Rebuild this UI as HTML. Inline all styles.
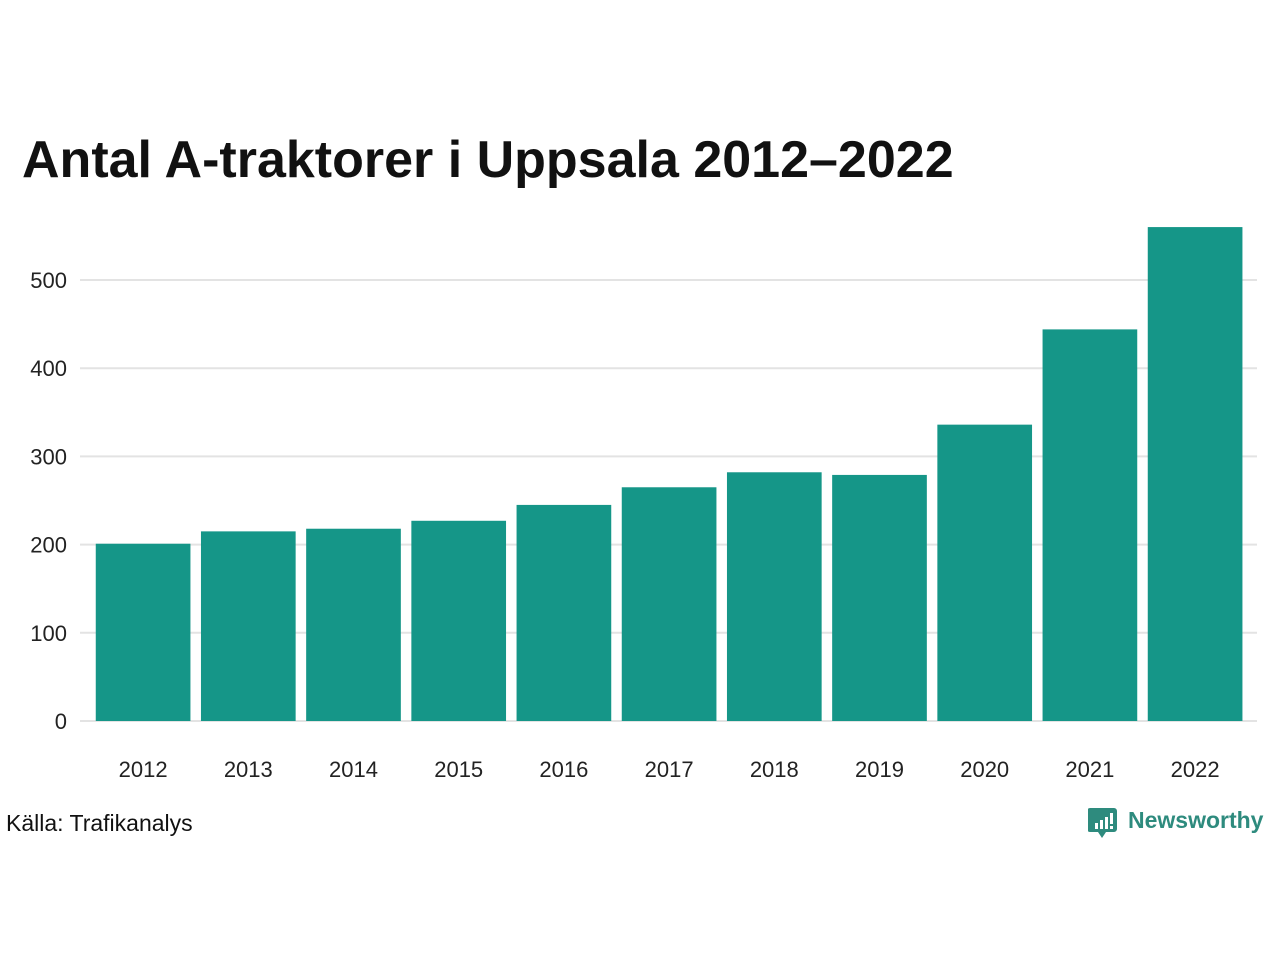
<!DOCTYPE html>
<html><head><meta charset="utf-8">
<style>
body{margin:0;background:#fff;font-family:"Liberation Sans",sans-serif;}
#wrap{position:relative;width:1280px;height:960px;overflow:hidden;}
h1{position:absolute;left:22px;top:130px;margin:0;font-size:52px;font-weight:bold;color:#111;letter-spacing:0px;}
#src{position:absolute;left:6px;top:810px;font-size:23px;color:#111;}
#logo{position:absolute;left:1088px;top:804px;}
</style></head><body>
<div id="wrap">
<h1>Antal A-traktorer i Uppsala 2012–2022</h1>
<svg id="chart" width="1280" height="960" style="position:absolute;left:0;top:0"></svg>
<div id="src">Källa: Trafikanalys</div>
<svg id="logo" width="190" height="40">
<path d="M2,4 h24 a3,3 0 0 1 3,3 v18 a3,3 0 0 1 -3,3 h-8 l-4,6 l-4,-6 h-8 a3,3 0 0 1 -3,-3 v-18 a3,3 0 0 1 3,-3z" fill="#2e8b7e"/>
<rect x="7" y="19" width="3" height="6" fill="#fff"/><rect x="12" y="16" width="3" height="9" fill="#fff"/><rect x="17" y="13" width="3" height="12" fill="#fff"/><rect x="22" y="9" width="3" height="11" fill="#fff"/><rect x="22" y="22" width="3" height="3" fill="#fff"/>
<text x="40" y="24" font-family="Liberation Sans,sans-serif" font-size="23" font-weight="bold" fill="#2e8b7e">Newsworthy</text>
</svg>
</div>
<script>
const categories=["2012","2013","2014","2015","2016","2017","2018","2019","2020","2021","2022"];
const values=[201,215,218,227,245,265,282,279,336,444,560];
const yTicks=[0,100,200,300,400,500];
const NS="http://www.w3.org/2000/svg";
const svg=document.getElementById('chart');
const x0=90.5,bandW=105.2,pad=0.1;
const y0=721,pxPer=441/500;
function x(i){return x0+i*bandW;}
function y(v){return y0-v*pxPer;}
function mk(t,a){const e=document.createElementNS(NS,t);for(const k in a)e.setAttribute(k,a[k]);svg.appendChild(e);return e;}
yTicks.forEach(t=>{
 const l=mk('line',{x1:80,x2:1257,y1:y(t),y2:y(t),stroke:'#e3e3e3','stroke-width':2});
 
 
 const tx=mk('text',{x:67,y:y(t)+8,'text-anchor':'end','font-size':22,fill:'#222','font-family':'Liberation Sans,sans-serif'});
 tx.textContent=t;
 
 
});
values.forEach((v,i)=>{
 const bw=bandW*(1-pad);
 const r=mk('rect',{x:x(i)+bandW*pad/2,y:y(v),width:bw,height:y0-y(v),fill:'#159688'});
 
 
 const t=mk('text',{x:x(i)+bandW/2,y:777,'text-anchor':'middle','font-size':22,fill:'#222','font-family':'Liberation Sans,sans-serif'});
 t.textContent=categories[i];
 
 
});
</script>
</body></html>
